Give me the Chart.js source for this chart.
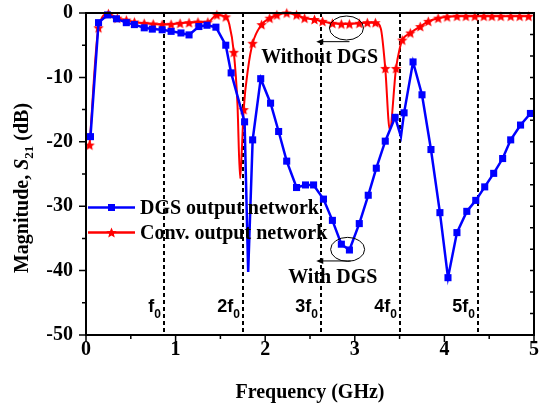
<!DOCTYPE html>
<html>
<head>
<meta charset="utf-8">
<script src="https://cdn.jsdelivr.net/npm/chart.js@4.4.0/dist/chart.umd.min.js"></script>
<style>
  html, body { margin: 0; padding: 0; background: #fff; }
  #wrap { width: 541px; height: 407px; }
</style>
</head>
<body>
<div id="wrap"><canvas id="s21Chart" width="541" height="407"></canvas></div>
<script>
// DGS output network (blue squares), GHz / dB
const dgsFreq = [0.05, 0.14, 0.24, 0.34, 0.45, 0.54, 0.65, 0.74, 0.85, 0.95, 1.06, 1.15, 1.26, 1.35, 1.45,
  1.56, 1.62, 1.77, 1.86, 1.95, 2.06, 2.15, 2.24, 2.35, 2.45, 2.54, 2.65, 2.75, 2.85, 2.94, 3.05, 3.15,
  3.24, 3.34, 3.45, 3.55, 3.65, 3.75, 3.85, 3.95, 4.04, 4.14, 4.25, 4.35, 4.45, 4.55, 4.65, 4.74, 4.85, 4.96];
const dgsMag = [-19.2, -1.5, -0.3, -0.9, -1.5, -1.8, -2.3, -2.5, -2.6, -2.85, -3.1, -3.4, -2.1, -1.9, -2.2,
  -5.0, -9.3, -16.9, -19.7, -10.2, -14.0, -18.4, -23.0, -27.1, -26.7, -26.7, -28.9, -32.2, -35.9, -36.8, -32.7, -28.3,
  -24.1, -19.9, -16.2, -15.5, -7.6, -12.7, -21.2, -31.0, -41.1, -34.1, -30.8, -29.1, -27.0, -24.9, -22.6, -19.7, -17.4, -15.6];
// sharp resonances between the measured markers (no marker drawn)
const dgsNotchFreq = [1.81, 3.515];
const dgsNotchMag = [-40.2, -19.2];

// Conventional output network (red stars)
const convFreq = [0.04, 0.14, 0.25, 0.35, 0.45, 0.54, 0.65, 0.75, 0.85, 0.95, 1.05, 1.15, 1.25, 1.36, 1.46,
  1.56, 1.65, 1.76, 1.86, 1.96, 2.05, 2.13, 2.24, 2.35, 2.44, 2.55, 2.64, 2.75, 2.85, 2.94, 3.05, 3.14,
  3.23, 3.34, 3.46, 3.53, 3.62, 3.73, 3.82, 3.93, 4.03, 4.14, 4.24, 4.34, 4.44, 4.53, 4.63, 4.74, 4.84, 4.94];
const convMag = [-20.5, -2.3, -0.1, -0.8, -1.1, -1.4, -1.6, -1.7, -1.8, -1.75, -1.6, -1.5, -1.4, -1.4, -0.3,
  -0.6, -6.1, -15.0, -4.7, -1.8, -0.8, -0.3, 0, -0.3, -0.8, -1.0, -1.3, -1.6, -1.7, -1.7, -1.6, -1.5,
  -1.5, -8.6, -8.6, -4.2, -3.1, -2.1, -1.3, -0.8, -0.6, -0.5, -0.5, -0.5, -0.5, -0.5, -0.5, -0.5, -0.5, -0.5];
const convNotchFreq = [1.60, 1.69, 1.72, 1.74, 1.81, 3.29, 3.39, 3.50];
const convNotchMag = [-1.8, -14.0, -25.7, -21.0, -8.5, -2.4, -18.1, -5.6];

// harmonics of f0
const f0 = 0.875;
const harmonics = [1, 2, 3, 4, 5];

const xTicks = [0, 1, 2, 3, 4, 5];
const yTicks = [-50, -40, -30, -20, -10, 0];

const serif = "'Liberation Serif', 'Times New Roman', serif";
const sans = "'Liberation Sans', Arial, sans-serif";
Chart.defaults.font.family = serif;

function buildPoints(fx, fy, nx, ny) {
  const pts = fx.map((x, i) => ({ x: x, y: fy[i], mark: true }));
  nx.forEach((x, i) => pts.push({ x: x, y: ny[i], mark: false }));
  pts.sort((a, b) => a.x - b.x);
  return pts;
}

function makeStar(r, color) {
  const c = document.createElement("canvas");
  const s = Math.ceil(r * 2) + 2;
  c.width = s;
  c.height = s;
  const g = c.getContext("2d");
  g.translate(s / 2, s / 2 + 0.5);
  g.beginPath();
  for (let i = 0; i < 10; i++) {
    const rr = i % 2 ? r * 0.45 : r;
    const a = -Math.PI / 2 + (i * Math.PI) / 5;
    g.lineTo(rr * Math.cos(a), rr * Math.sin(a));
  }
  g.closePath();
  g.fillStyle = color;
  g.fill();
  return c;
}

const starImg = makeStar(5.5, "#ff0000");

// draws pieces of text with different fonts / offsets
function richText(c, parts, x, y, align) {
  let w = 0;
  parts.forEach((p) => { c.font = p.font; w += c.measureText(p.t).width; });
  let cx = align === "right" ? x - w : align === "center" ? x - w / 2 : x;
  parts.forEach((p) => {
    c.font = p.font;
    c.fillText(p.t, cx, y + (p.dy || 0));
    cx += c.measureText(p.t).width;
  });
}

function arrowLeft(c, x1, x2, y) {
  c.beginPath();
  c.moveTo(x1, y);
  c.lineTo(x2 + 5, y);
  c.stroke();
  c.beginPath();
  c.moveTo(x2, y);
  c.lineTo(x2 + 7, y - 3);
  c.lineTo(x2 + 7, y + 3);
  c.closePath();
  c.fill();
}

// keep the plot box fixed: no extra room for overflowing tick labels
function noPadding(s) {
  s.paddingTop = 0;
  s.paddingBottom = 0;
  s.paddingLeft = 0;
  s.paddingRight = 0;
}

const decor = {
  id: "decor",
  beforeDatasetsDraw(chart) {
    const c = chart.ctx;
    const xs = chart.scales.x, ys = chart.scales.y;
    c.save();
    c.strokeStyle = "#000";
    c.lineWidth = 2;
    c.setLineDash([4, 3]);
    harmonics.forEach((n) => {
      const px = Math.round(xs.getPixelForValue(n * f0));
      c.beginPath();
      c.moveTo(px, ys.getPixelForValue(0));
      c.lineTo(px, ys.getPixelForValue(-50));
      c.stroke();
    });
    c.restore();
  },
  afterDatasetsDraw(chart) {
    const c = chart.ctx;
    const a = chart.chartArea;
    const xs = chart.scales.x, ys = chart.scales.y, y2 = chart.scales.y2;
    c.save();
    c.strokeStyle = "#000";
    c.fillStyle = "#000";

    // frame
    c.lineWidth = 2;
    c.strokeRect(a.left, a.top, a.right - a.left, a.bottom - a.top);

    // tick marks
    c.lineWidth = 1.5;
    c.beginPath();
    for (let v = 0; v <= 5.001; v += 0.5) {
      const px = xs.getPixelForValue(v);
      const len = Math.abs(v - Math.round(v)) < 0.01 ? 7 : 4;
      c.moveTo(px, a.bottom);
      c.lineTo(px, a.bottom + len);
    }
    for (let v = -50; v <= 0; v += 5) {
      const py = ys.getPixelForValue(v);
      const len = v % 10 === 0 ? 7 : 4;
      c.moveTo(a.left, py);
      c.lineTo(a.left - len, py);
    }
    for (let v = 1; v < 15; v++) {
      const py = y2.getPixelForValue(v);
      c.moveTo(a.right, py);
      c.lineTo(a.right - 4, py);
    }
    c.stroke();

    // harmonic labels
    c.textBaseline = "alphabetic";
    harmonics.forEach((n) => {
      const px = Math.round(xs.getPixelForValue(n * f0));
      richText(c, [
        { t: (n === 1 ? "" : n) + "f", font: "bold 18px " + sans },
        { t: "0", font: "bold 12px " + sans, dy: 6.5 }
      ], px - 3, ys.getPixelForValue(-46.4), "right");
    });

    // annotations
    c.lineWidth = 1;
    const notes = [
      { text: "Without DGS", cx: 2.907, cy: -2.33, tx: 2.607, ty: -7.8, ay: -4.45, ax: 2.57 },
      { text: "With DGS", cx: 2.92, cy: -36.7, tx: 2.754, ty: -42.0, ay: -38.5, ax: 2.57 }
    ];
    notes.forEach((nt) => {
      const ex = xs.getPixelForValue(nt.cx), ey = ys.getPixelForValue(nt.cy);
      c.beginPath();
      c.ellipse(ex, ey, 17, 12, 0, 0, Math.PI * 2);
      c.stroke();
      arrowLeft(c, ex + 3, xs.getPixelForValue(nt.ax), ys.getPixelForValue(nt.ay));
      c.font = "bold 20px " + serif;
      c.textAlign = "center";
      c.fillText(nt.text, xs.getPixelForValue(nt.tx), ys.getPixelForValue(nt.ty));
      c.textAlign = "left";
    });

    // legend
    const rows = [
      { label: "DGS output network", color: "#0000ff", y: 207.5, square: true },
      { label: "Conv. output network", color: "#ff0000", y: 232.5, square: false }
    ];
    rows.forEach((r) => {
      c.strokeStyle = r.color;
      c.lineWidth = 2.5;
      c.beginPath();
      c.moveTo(a.left + 2, r.y);
      c.lineTo(a.left + 49, r.y);
      c.stroke();
      if (r.square) {
        c.fillStyle = r.color;
        c.fillRect(a.left + 22, r.y - 3.5, 7, 7);
      } else {
        c.drawImage(starImg, a.left + 25.5 - starImg.width / 2, r.y - starImg.height / 2);
      }
      c.fillStyle = "#000";
      c.font = "bold 20px " + serif;
      c.textBaseline = "middle";
      c.fillText(r.label, a.left + 54, r.y + 1);
      c.textBaseline = "alphabetic";
    });

    // y axis title
    c.translate(28, (a.top + a.bottom) / 2 + 14);
    c.rotate(-Math.PI / 2);
    richText(c, [
      { t: "Magnitude, ", font: "bold 20px " + serif },
      { t: "S", font: "italic bold 20px " + serif },
      { t: "21", font: "bold 13px " + serif, dy: 5 },
      { t: " (dB)", font: "bold 20px " + serif }
    ], 0, 0, "center");
    c.restore();
  }
};

const tickFont = { family: serif, size: 20, weight: "bold" };

const ctx = document.getElementById("s21Chart").getContext("2d");
new Chart(ctx, {
  type: "line",
  data: {
    datasets: [
      {
        label: "DGS output network",
        data: buildPoints(dgsFreq, dgsMag, dgsNotchFreq, dgsNotchMag),
        borderColor: "#0000ff",
        backgroundColor: "#0000ff",
        borderWidth: 2.5,
        pointStyle: "rect",
        pointRadius: (c) => (c.raw && c.raw.mark ? 5 : 0),
        pointBorderWidth: 0,
        tension: 0,
        clip: false
      },
      {
        label: "Conv. output network",
        data: buildPoints(convFreq, convMag, convNotchFreq, convNotchMag),
        borderColor: "#ff0000",
        backgroundColor: "#ff0000",
        borderWidth: 2,
        pointStyle: starImg,
        pointRadius: (c) => (c.raw && c.raw.mark ? 5 : 0),
        cubicInterpolationMode: "monotone",
        clip: false
      }
    ]
  },
  options: {
    responsive: false,
    animation: false,
    layout: { padding: { top: 13, right: 3, left: 0, bottom: 0 } },
    plugins: { legend: { display: false }, tooltip: { enabled: false } },
    scales: {
      x: {
        type: "linear",
        min: 0,
        max: 5,
        afterBuildTicks: (s) => { s.ticks = xTicks.map((v) => ({ value: v })); },
        ticks: { font: tickFont, color: "#000", padding: 3, maxRotation: 0 },
        grid: { display: false, drawTicks: false },
        border: { display: false },
        title: {
          display: true,
          text: "Frequency (GHz)",
          color: "#000",
          font: { family: serif, size: 20, weight: "bold" },
          padding: { top: 0, bottom: 2 }
        },
        afterFit: (s) => { s.height = 72; noPadding(s); }
      },
      y: {
        min: -50,
        max: 0,
        afterBuildTicks: (s) => { s.ticks = yTicks.map((v) => ({ value: v })); },
        ticks: { font: tickFont, color: "#000", padding: 13 },
        grid: { display: false, drawTicks: false },
        border: { display: false },
        afterFit: (s) => { s.width = 86; noPadding(s); }
      },
      y2: {
        position: "right",
        min: 0,
        max: 15,
        ticks: { display: false },
        grid: { display: false, drawTicks: false },
        border: { display: false },
        afterFit: (s) => { s.width = 0; noPadding(s); }
      }
    }
  },
  plugins: [decor]
});
</script>
</body>
</html>
